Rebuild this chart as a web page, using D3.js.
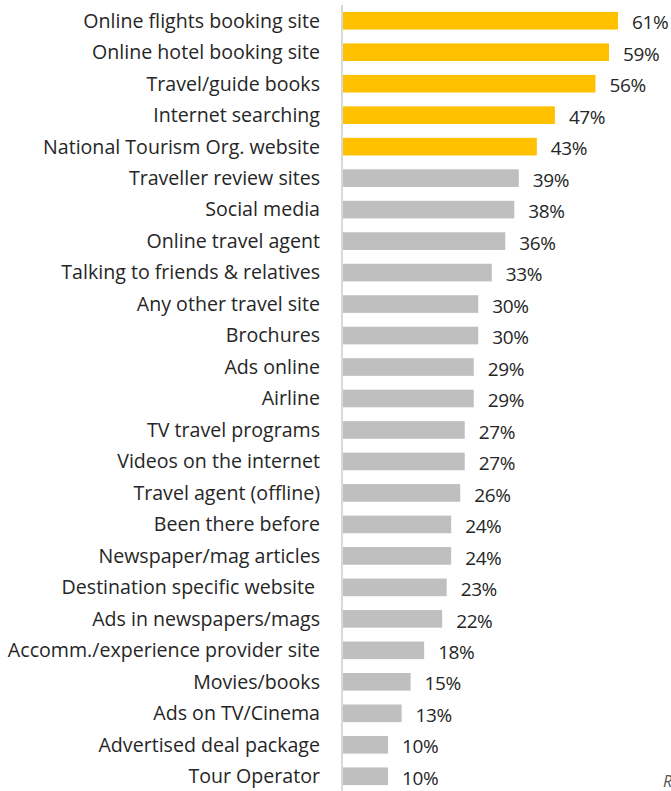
<!DOCTYPE html>
<html>
<head>
<meta charset="utf-8">
<script src="https://cdn.jsdelivr.net/npm/d3@7"></script>
<style>
  html, body { margin: 0; padding: 0; background: #fff; }
  svg { display: block; }
  text { font-family: "Open Sans", "Noto Sans", sans-serif; fill: #262626; }
</style>
</head>
<body>
<div id="chart"></div>
<script>
// Information sources used when planning a trip (% of respondents)
const categories = [
  "Online flights booking site",
  "Online hotel booking site",
  "Travel/guide books",
  "Internet searching",
  "National Tourism Org. website",
  "Traveller review sites",
  "Social media",
  "Online travel agent",
  "Talking to friends & relatives",
  "Any other travel site",
  "Brochures",
  "Ads online",
  "Airline",
  "TV travel programs",
  "Videos on the internet",
  "Travel agent (offline)",
  "Been there before",
  "Newspaper/mag articles",
  "Destination specific website ",
  "Ads in newspapers/mags",
  "Accomm./experience provider site",
  "Movies/books",
  "Ads on TV/Cinema",
  "Advertised deal package",
  "Tour Operator"
];
const values = [61, 59, 56, 47, 43, 39, 38, 36, 33, 30, 30, 29, 29, 27, 27, 26, 24, 24, 23, 22, 18, 15, 13, 10, 10];
// The top five sources are highlighted
const highlightCount = 5;

const width = 671, height = 791;
const axisX = 342;

const svg = d3.select("#chart").append("svg")
  .attr("width", width).attr("height", height);

const x = d3.scaleLinear().domain([0, 61]).range([axisX + 1, 618]);
const y = d3.scaleBand().domain(categories).range([5, 792]).paddingInner(0.44).paddingOuter(0.22);

const rows = svg.append("g");

rows.selectAll("rect").data(categories).join("rect")
  .attr("x", x(0))
  .attr("y", d => y(d))
  .attr("width", (d, i) => x(values[i]) - x(0))
  .attr("height", y.bandwidth())
  .attr("fill", (d, i) => i < highlightCount ? "#FFC000" : "#BFBFBF");

// Category labels
rows.selectAll("text.cat").data(categories).join("text")
  .attr("class", "cat")
  .attr("x", 320)
  .attr("y", d => y(d) + y.bandwidth() / 2)
  .attr("dy", "0.35em")
  .attr("text-anchor", "end")
  .style("font-size", "19.6px")
  .style("white-space", "pre")
  .text(d => d);

// Value labels
rows.selectAll("text.val").data(categories).join("text")
  .attr("class", "val")
  .attr("x", (d, i) => x(values[i]) + 14)
  .attr("y", d => y(d) + y.bandwidth() / 2 + 2)
  .attr("dy", "0.35em")
  .style("font-size", "19px")
  .style("letter-spacing", "-0.4px")
  .text((d, i) => values[i] + "%");

// Vertical baseline
svg.append("line")
  .attr("x1", axisX).attr("x2", axisX)
  .attr("y1", 5).attr("y2", height)
  .attr("stroke", "#D9D9D9").attr("stroke-width", 2);

// Footnote marker at the lower right corner
svg.append("text")
  .attr("x", 663).attr("y", 787)
  .style("font-size", "16px")
  .style("font-style", "italic")
  .style("fill", "#595959")
  .text("R");
</script>
</body>
</html>
